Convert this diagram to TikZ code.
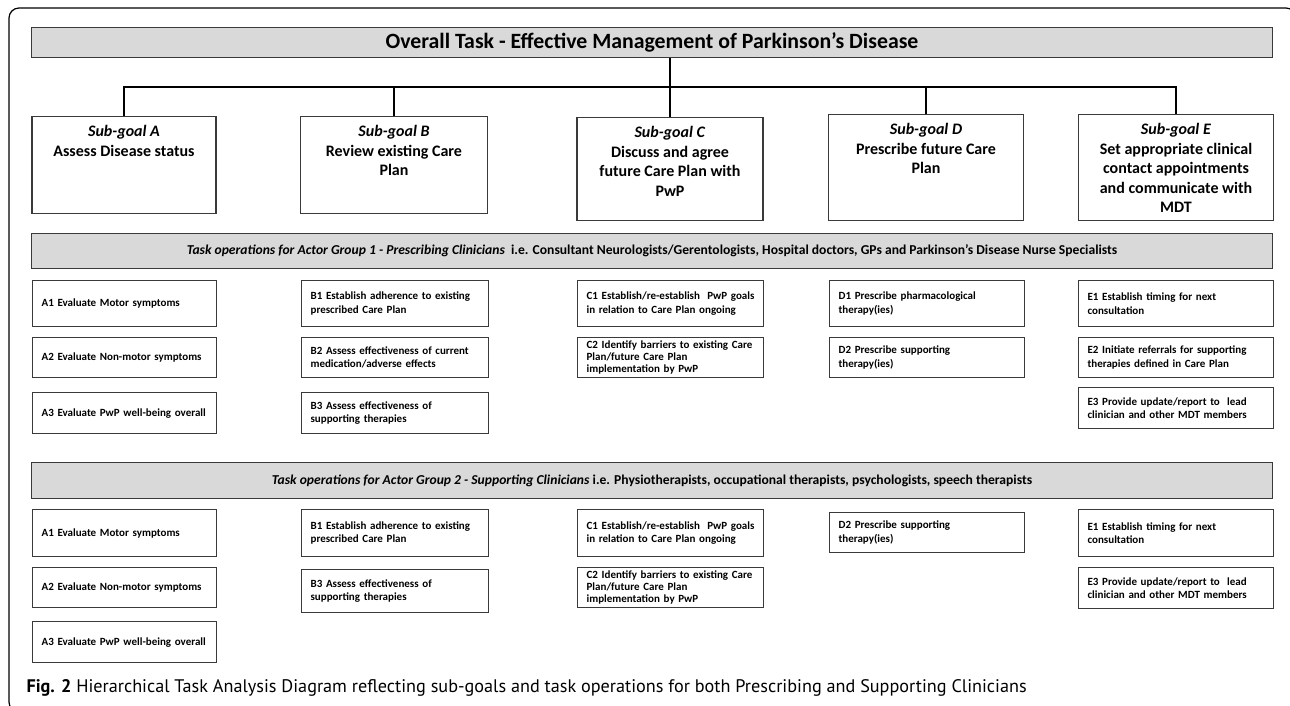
\documentclass[tikz,border=0pt]{standalone}
\usepackage{fontspec}
\setmainfont{Carlito}
\newfontfamily\capfont{PT Sans}
\usepackage{xcolor}
\usepackage{tikz}
\usetikzlibrary{calc}

\definecolor{barfill}{HTML}{D9D9D9}
\definecolor{boxline}{HTML}{3A3A3A}

% sub-goal text, pinned to the top of its box
\newcommand{\goal}[4]{\parbox[t][#2][t]{#1}{\centering\vspace*{9pt}\textit{#3}\\#4\par}}

\begin{document}
\begin{tikzpicture}[
		%Global config
		x=1pt, y=-1pt,
		line width=1.2pt,
		color = black,
		%Styles
		bar/.style={
			draw=boxline,
			fill=barfill,
			line width=1.3pt,
			minimum width=1241pt,
			anchor=north,
			inner sep=0pt,
		},
		goal/.style={
			draw=boxline,
			line width=1.3pt,
			anchor=north,
			inner sep=0pt,
			font=\fontsize{16}{19.5}\selectfont\bfseries,
		},
		task/.style={
			draw=boxline,
			line width=1.2pt,
			anchor=north west,
			inner xsep=9pt,
			inner ysep=1pt,
			align=left,
			font=\fontsize{11}{13.5}\selectfont\bfseries,
		},
		colA/.style={text width=166pt},
		colB/.style={text width=169pt},
		colC/.style={text width=168pt},
		colD/.style={text width=177pt},
		colE/.style={text width=177pt},
		link/.style={
			line width=2pt,
			color=black
			}
		]
		\useasboundingbox (0,0) rectangle (1290,706);

		% Page frame
		\draw[rounded corners=10pt] (1296,40) -- (1296,8) -- (9,8) -- (9,712) -- (30,712);

		% Overall task
		\node[bar, minimum height=30pt, font=\fontsize{21.8}{24}\selectfont\bfseries] (task) at (652,27) {Overall Task - Effective Management of Parkinson’s Disease};

		% Sub-goals
		\node[goal] (sgA) at (124,116) {\goal{184pt}{97pt}{Sub-goal A}{Assess Disease status}};
		\node[goal] (sgB) at (394,116) {\goal{187pt}{97pt}{Sub-goal B}{Review existing Care\\Plan}};
		\node[goal] (sgC) at (670,117) {\goal{186pt}{103pt}{Sub-goal C}{Discuss and agree\\future Care Plan with\\PwP}};
		\node[goal] (sgD) at (926,114) {\goal{195pt}{106pt}{Sub-goal D}{Prescribe future Care\\Plan}};
		\node[goal] (sgE) at (1176,114) {\goal{195pt}{106pt}{Sub-goal E}{Set appropriate clinical\\contact appointments\\and communicate with\\MDT}};

		% Tree
		\coordinate (bus) at (sgC.north |- 0,87);
		\draw[link] (task.south -| bus) -- (bus);
		\draw[link] (bus) -| (sgA.north);
		\draw[link] (bus) -| (sgB.north);
		\draw[link] (bus) -- (sgC.north);
		\draw[link] (bus) -| (sgD.north);
		\draw[link] (bus) -| (sgE.north);

		% Actor group 1
		\node[bar, minimum height=35pt, font=\fontsize{13.6}{16}\selectfont\bfseries] (grpA) at (652,233) {\textit{Task operations for Actor Group 1 - Prescribing Clinicians}\ \ i.e. Consultant Neurologists/Gerentologists, Hospital doctors, GPs and Parkinson’s Disease Nurse Specialists};

		\node[task, colA, minimum height=46pt] (pA1) at (32,280) {A1 Evaluate Motor symptoms};
		\node[task, colA, minimum height=40pt] (pA2) at (32,337) {A2 Evaluate Non-motor symptoms};
		\node[task, colA, minimum height=41pt] (pA3) at (32,392) {A3 Evaluate PwP well-being overall};
		\node[task, colB, minimum height=46pt] (pB1) at (301,280) {B1 Establish adherence to existing\\prescribed Care Plan};
		\node[task, colB, minimum height=40pt] (pB2) at (301,337) {B2 Assess effectiveness of current\\medication/adverse effects};
		\node[task, colB, minimum height=41pt] (pB3) at (301,392) {B3 Assess effectiveness of\\supporting therapies};
		\node[task, colC, minimum height=46pt] (pC1) at (577,280) {C1 Establish/re-establish\ \ PwP goals\\in relation to Care Plan ongoing};
		\node[task, colC, minimum height=40pt, font=\fontsize{11}{12}\selectfont\bfseries] (pC2) at (577,337) {C2 Identify barriers to existing Care\\Plan/future Care Plan\\implementation by PwP};
		\node[task, colD, minimum height=46pt] (pD1) at (829,280) {D1 Prescribe pharmacological\\therapy(ies)};
		\node[task, colD, minimum height=40pt] (pD2) at (829,337) {D2 Prescribe supporting\\therapy(ies)};
		\node[task, colE, minimum height=46pt] (pE1) at (1078,280) {E1 Establish timing for next\\consultation};
		\node[task, colE, minimum height=40pt] (pE2) at (1078,337) {E2 Initiate referrals for supporting\\therapies defined in Care Plan};
		\node[task, colE, minimum height=41pt] (pE3) at (1078,387) {E3 Provide update/report to\ \ lead\\clinician and other MDT members};

		% Actor group 2
		\node[bar, minimum height=36pt, font=\fontsize{13.6}{16}\selectfont\bfseries] (grpB) at (652,462) {\textit{Task operations for Actor Group 2 - Supporting Clinicians} i.e. Physiotherapists, occupational therapists, psychologists, speech therapists};

		\node[task, colA, minimum height=47pt] (sA1) at (32,509) {A1 Evaluate Motor symptoms};
		\node[task, colA, minimum height=40pt] (sA2) at (32,567) {A2 Evaluate Non-motor symptoms};
		\node[task, colA, minimum height=41pt] (sA3) at (32,621) {A3 Evaluate PwP well-being overall};
		\node[task, colB, minimum height=47pt] (sB1) at (301,509) {B1 Establish adherence to existing\\prescribed Care Plan};
		\node[task, colB, minimum height=43pt] (sB3) at (301,569) {B3 Assess effectiveness of\\supporting therapies};
		\node[task, colC, minimum height=47pt] (sC1) at (577,509) {C1 Establish/re-establish\ \ PwP goals\\in relation to Care Plan ongoing};
		\node[task, colC, minimum height=40pt, font=\fontsize{11}{12}\selectfont\bfseries] (sC2) at (577,567) {C2 Identify barriers to existing Care\\Plan/future Care Plan\\implementation by PwP};
		\node[task, colD, minimum height=40pt] (sD2) at (829,512) {D2 Prescribe supporting\\therapy(ies)};
		\node[task, colE, minimum height=47pt] (sE1) at (1078,509) {E1 Establish timing for next\\consultation};
		\node[task, colE, minimum height=41pt] (sE3) at (1078,567) {E3 Provide update/report to\ \ lead\\clinician and other MDT members};

		% Caption
		\node[anchor=west, inner sep=0pt, font=\capfont\fontsize{18.2}{20}\selectfont] (caption) at (26,688) {\textbf{Fig. 2} Hierarchical Task Analysis Diagram reflecting sub-goals and task operations for both Prescribing and Supporting Clinicians};
	\end{tikzpicture}
\end{document}
